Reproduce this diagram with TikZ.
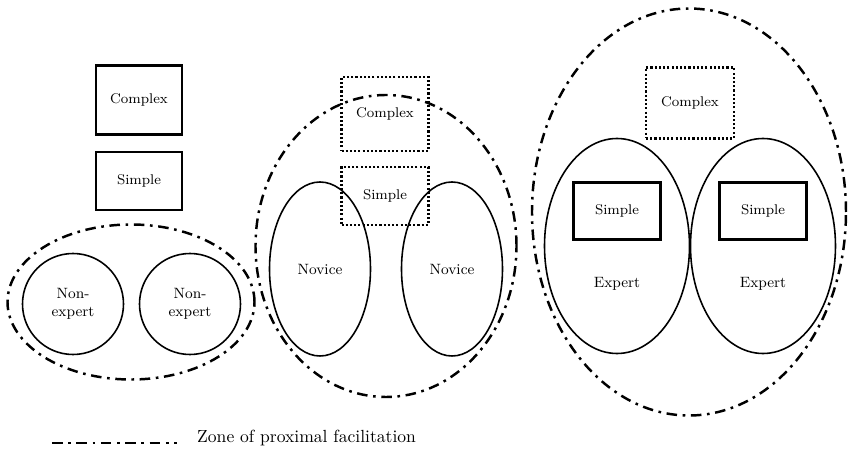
\documentclass[tikz,border=0pt]{standalone}
\usepackage{tikz}
\usetikzlibrary{positioning,shapes.geometric}
\tikzset{
  zone/.style ={ellipse, draw=black, line width=1.4pt, inner sep=0pt,
                dash pattern=on 6pt off 3.2pt on 1.5pt off 3.2pt},
  learner/.style={ellipse, draw=black, line width=0.9pt, inner sep=0pt, align=center,
                font=\fontsize{8.5}{10}\selectfont},
  taskbox/.style={rectangle, draw=black, line width=1.7pt, inner sep=0pt,
                font=\fontsize{8}{9.5}\selectfont},
  opentask/.style={rectangle, draw=black, line width=1.3pt, inner sep=0pt,
                dash pattern=on 1.2pt off 1.2pt, font=\fontsize{8}{9.5}\selectfont},
  lbl/.style  ={font=\fontsize{8.5}{10}\selectfont},
}
\begin{document}
\begin{tikzpicture}
\useasboundingbox (0,0) rectangle (16.96,-9.04);

\node[taskbox, minimum width=1.72cm, minimum height=1.38cm] (cplxA) at (2.78,-2.00) {Complex};
\node[taskbox, minimum width=1.72cm, minimum height=1.16cm] (simpA) at (2.78,-3.62) {Simple};
\node[zone, minimum width=4.94cm, minimum height=3.10cm] (zoneA) at (2.62,-6.04) {};
\node[learner, minimum width=2.02cm, minimum height=2.02cm] (nexA) at (1.46,-6.08) {Non-\\expert};
\node[learner, minimum width=2.02cm, minimum height=2.02cm] (nexB) at (3.80,-6.08) {Non-\\expert};

\node[zone, minimum width=5.22cm, minimum height=6.04cm] (zoneB) at (7.72,-4.92) {};
\node[opentask, minimum width=1.74cm, minimum height=1.48cm] (cplxB) at (7.70,-2.28) {Complex};
\node[opentask, minimum width=1.74cm, minimum height=1.16cm] (simpB) at (7.70,-3.92) {Simple};
\node[learner, minimum width=2.02cm, minimum height=3.48cm] (novA) at (6.40,-5.38) {Novice};
\node[learner, minimum width=2.02cm, minimum height=3.48cm] (novB) at (9.04,-5.38) {Novice};

\node[zone, minimum width=6.28cm, minimum height=8.14cm] (zoneC) at (13.78,-4.24) {};
\node[opentask, minimum width=1.76cm, minimum height=1.42cm] (cplxC) at (13.80,-2.06) {Complex};
\node[learner, minimum width=2.90cm, minimum height=4.30cm] (expA) at (12.34,-4.92) {};
\node[learner, minimum width=2.90cm, minimum height=4.30cm] (expB) at (15.26,-4.92) {};
\node[taskbox, minimum width=1.74cm, minimum height=1.14cm] (simpC) at (12.34,-4.22) {Simple};
\node[taskbox, minimum width=1.74cm, minimum height=1.14cm] (simpD) at (15.26,-4.22) {Simple};
\node[lbl] (expLA) at (12.34,-5.68) {Expert};
\node[lbl] (expLB) at (15.26,-5.68) {Expert};

\coordinate (keyL) at (1.04,-8.86);
\coordinate (keyR) at (3.54,-8.86);
\draw[line width=1.4pt, dash pattern=on 6pt off 3.2pt on 1.5pt off 3.2pt] (keyL) -- (keyR);
\node[anchor=west, font=\fontsize{10}{12}\selectfont] (keyT) at (3.82,-8.76) {Zone of proximal facilitation};
\end{tikzpicture}
\end{document}
